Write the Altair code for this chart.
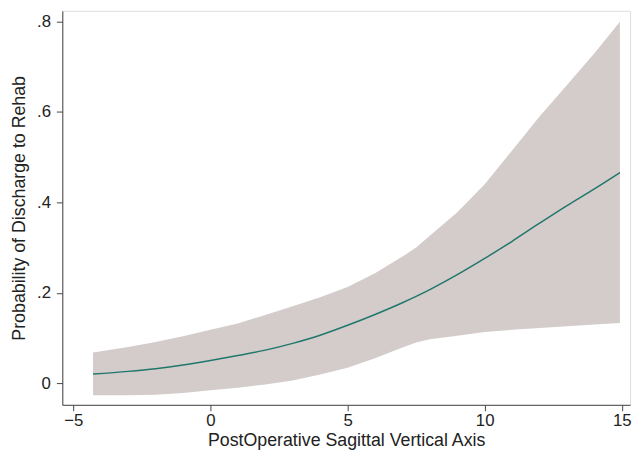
import altair as alt
import pandas as pd

x_vals = [-4.28, -3, -2, -1, 0, 1, 2, 3, 4, 5, 6, 7, 7.5, 8, 9, 10, 11, 12, 13, 14, 14.93]
pred = [0.020, 0.026, 0.032, 0.040, 0.050, 0.061, 0.073, 0.088, 0.106, 0.128, 0.152,
        0.178, 0.192, 0.207, 0.240, 0.276, 0.314, 0.354, 0.393, 0.430, 0.466]
upper = [0.068, 0.080, 0.091, 0.104, 0.118, 0.132, 0.151, 0.170, 0.190, 0.213, 0.243,
         0.280, 0.300, 0.326, 0.378, 0.440, 0.515, 0.590, 0.660, 0.730, 0.800]
lower = [-0.027, -0.027, -0.026, -0.022, -0.016, -0.010, -0.003, 0.006, 0.019, 0.034, 0.055,
         0.079, 0.090, 0.097, 0.105, 0.113, 0.118, 0.122, 0.126, 0.130, 0.133]

x_ticks = [-5, 0, 5, 10, 15]
y_ticks = [0, 0.2, 0.4, 0.6, 0.8]

df = pd.DataFrame({"x": x_vals, "pred": pred, "lo": lower, "hi": upper})

FONT = "Liberation Sans"

xscale = alt.Scale(domain=[-5.4, 15.3], nice=False, zero=False)
yscale = alt.Scale(domain=[-0.048, 0.824], nice=False, zero=False)

xaxis = alt.Axis(values=x_ticks, title="PostOperative Sagittal Vertical Axis", grid=False,
                 tickSize=6, labelPadding=2, titlePadding=3, domainColor="#444",
                 tickColor="#444", labelFont=FONT, titleFont=FONT, labelFontSize=17,
                 titleFontSize=18, titleFontWeight="normal", labelColor="#222",
                 titleColor="#222")
yaxis = alt.Axis(values=y_ticks, title="Probability of Discharge to Rehab", grid=False,
                 tickSize=6, labelPadding=6, titlePadding=8, domainColor="#444",
                 tickColor="#444", labelFont=FONT, titleFont=FONT, labelFontSize=17,
                 titleFontSize=18, titleFontWeight="normal", labelColor="#222",
                 titleColor="#222",
                 labelExpr="datum.value == 0 ? '0' : replace(format(datum.value, '.1f'), '0.', '.')")

band = alt.Chart(df).mark_area(color="#d3cccb", opacity=1).encode(
    x=alt.X("x:Q", scale=xscale, axis=xaxis),
    y=alt.Y("lo:Q", scale=yscale, axis=yaxis),
    y2="hi:Q",
)
line = alt.Chart(df).mark_line(color="#21776b", strokeWidth=1.5, interpolate="monotone").encode(
    x=alt.X("x:Q", scale=xscale),
    y=alt.Y("pred:Q", scale=yscale),
)

chart = (band + line).properties(
    width=575, height=399,
    autosize=alt.AutoSizeParams(type="none"),
    padding={"left": 55, "top": 0, "right": 5, "bottom": 52},
).configure_view(stroke=None).configure(background="white")

chart.save("out.html", embed_options={"renderer": "svg", "actions": False})
